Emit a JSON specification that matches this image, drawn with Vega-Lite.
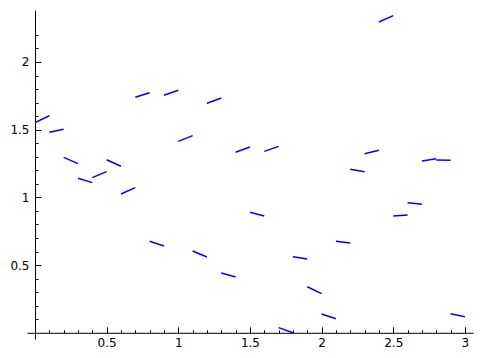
{
  "$schema": "https://vega.github.io/schema/vega-lite/v6.json",
  "width": 446,
  "height": 329,
  "autosize": {"type": "none"},
  "padding": {"left": 27, "top": 10, "right": 9, "bottom": 19},
  "background": "white",
  "config": {"view": {"stroke": null}},
  "data": {"values": [
    {"x1": 0.0, "y1": 1.552, "x2": 0.1, "y2": 1.603},
    {"x1": 0.1, "y1": 1.481, "x2": 0.2, "y2": 1.503},
    {"x1": 0.2, "y1": 1.296, "x2": 0.3, "y2": 1.249},
    {"x1": 0.3, "y1": 1.141, "x2": 0.4, "y2": 1.109},
    {"x1": 0.4, "y1": 1.146, "x2": 0.5, "y2": 1.190},
    {"x1": 0.5, "y1": 1.278, "x2": 0.6, "y2": 1.230},
    {"x1": 0.6, "y1": 1.025, "x2": 0.7, "y2": 1.072},
    {"x1": 0.7, "y1": 1.739, "x2": 0.8, "y2": 1.773},
    {"x1": 0.8, "y1": 0.676, "x2": 0.9, "y2": 0.641},
    {"x1": 0.9, "y1": 1.754, "x2": 1.0, "y2": 1.791},
    {"x1": 1.0, "y1": 1.414, "x2": 1.1, "y2": 1.456},
    {"x1": 1.1, "y1": 0.604, "x2": 1.2, "y2": 0.560},
    {"x1": 1.2, "y1": 1.695, "x2": 1.3, "y2": 1.734},
    {"x1": 1.3, "y1": 0.442, "x2": 1.4, "y2": 0.412},
    {"x1": 1.4, "y1": 1.333, "x2": 1.5, "y2": 1.372},
    {"x1": 1.5, "y1": 0.890, "x2": 1.6, "y2": 0.862},
    {"x1": 1.6, "y1": 1.340, "x2": 1.7, "y2": 1.377},
    {"x1": 1.7, "y1": 0.038, "x2": 1.8, "y2": 0.0},
    {"x1": 1.8, "y1": 0.562, "x2": 1.9, "y2": 0.545},
    {"x1": 1.9, "y1": 0.340, "x2": 2.0, "y2": 0.289},
    {"x1": 2.0, "y1": 0.139, "x2": 2.1, "y2": 0.104},
    {"x1": 2.1, "y1": 0.676, "x2": 2.2, "y2": 0.663},
    {"x1": 2.2, "y1": 1.208, "x2": 2.3, "y2": 1.190},
    {"x1": 2.3, "y1": 1.323, "x2": 2.4, "y2": 1.348},
    {"x1": 2.4, "y1": 2.295, "x2": 2.5, "y2": 2.342},
    {"x1": 2.5, "y1": 0.863, "x2": 2.6, "y2": 0.870},
    {"x1": 2.6, "y1": 0.961, "x2": 2.7, "y2": 0.949},
    {"x1": 2.7, "y1": 1.269, "x2": 2.8, "y2": 1.286},
    {"x1": 2.8, "y1": 1.276, "x2": 2.9, "y2": 1.274},
    {"x1": 2.9, "y1": 0.141, "x2": 3.0, "y2": 0.119}
  ]},
  "mark": {"type": "rule", "color": "#0000ff", "strokeWidth": 1.5, "clip": true},
  "encoding": {
    "x": {
      "field": "x1", "type": "quantitative",
      "scale": {"domain": [-0.0558, 3.0566], "nice": false, "zero": false},
      "axis": {
        "title": null, "orient": "bottom", "offset": -6.2,
        "values": [0.1,0.2,0.3,0.4,0.5,0.6,0.7,0.8,0.9,1.0,1.1,1.2,1.3,1.4,1.5,1.6,1.7,1.8,1.9,2.0,2.1,2.2,2.3,2.4,2.5,2.6,2.7,2.8,2.9,3.0],
        "format": "~g",
        "labelExpr": "round(datum.value*10) % 5 == 0 ? datum.label : ''",
        "labelOverlap": false, "labelFlush": false, "labelBound": false,
        "grid": false,
        "domainColor": "#000000", "domainWidth": 1,
        "tickColor": "#000000", "tickWidth": 1,
        "tickSize": {"condition": {"test": "round(datum.value*10) % 5 == 0", "value": -6}, "value": -3},
        "labelFont": "DejaVu Sans", "labelFontSize": 12, "labelColor": "#000000",
        "labelPadding": 11
      }
    },
    "x2": {"field": "x2"},
    "y": {
      "field": "y1", "type": "quantitative",
      "scale": {"domain": [-0.0458, 2.384], "nice": false, "zero": false},
      "axis": {
        "title": null, "orient": "left", "offset": -8,
        "values": [0.1,0.2,0.3,0.4,0.5,0.6,0.7,0.8,0.9,1.0,1.1,1.2,1.3,1.4,1.5,1.6,1.7,1.8,1.9,2.0,2.1,2.2],
        "format": "~g",
        "labelExpr": "round(datum.value*10) % 5 == 0 ? datum.label : ''",
        "labelOverlap": false, "labelFlush": false, "labelBound": false,
        "grid": false,
        "domainColor": "#000000", "domainWidth": 1,
        "tickColor": "#000000", "tickWidth": 1,
        "tickSize": {"condition": {"test": "round(datum.value*10) % 5 == 0", "value": -6}, "value": -3},
        "labelFont": "DejaVu Sans", "labelFontSize": 12, "labelColor": "#000000",
        "labelPadding": 12
      }
    },
    "y2": {"field": "y2"}
  }
}
